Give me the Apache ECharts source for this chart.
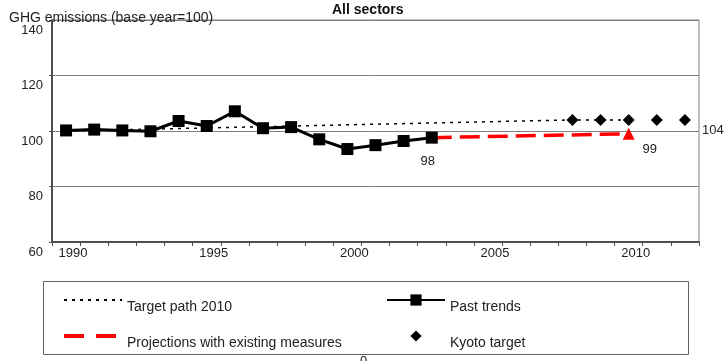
<!DOCTYPE html>
<html><head><meta charset="utf-8">
<script src="https://cdn.jsdelivr.net/npm/echarts@6/dist/echarts.min.js"></script>
<style>html,body{margin:0;padding:0;background:#fff}#c{width:724px;height:361px}</style>
</head><body><div id="c"></div>
<script>
// ---- data ----
const years = ['1990','1991','1992','1993','1994','1995','1996','1997','1998','1999','2000','2001','2002','2003','2004','2005','2006','2007','2008','2009','2010','2011','2012'];
const yTicks = [60, 80, 100, 120, 140];
const pastTrends = [100.2, 100.5, 100.2, 99.9, 103.6, 101.8, 107.1, 101.0, 101.4, 97.0, 93.5, 94.9, 96.4, 97.6];
const targetPath = [100, null, null, null, null, null, null, null, null, null, null, null, null, null, null, null, null, null, 104, 104, 104, null, null];
const projections = [null, null, null, null, null, null, null, null, null, null, null, null, null, 97.6, null, null, null, null, null, null, 99, null, null];
const kyotoTarget = [null, null, null, null, null, null, null, null, null, null, null, null, null, null, null, null, null, null, 104, 104, 104, 104, 104];
const labelTexts = { past: '98', proj: '99', kyoto: '104' };

const textColor = '#222';
const font = 'Arial, "Liberation Sans", sans-serif';

const pastData = pastTrends.map((v, i) => i === pastTrends.length - 1
  ? { value: v, label: { show: true, formatter: labelTexts.past, position: 'inside', offset: [-4, 24], color: textColor, fontSize: 13, fontFamily: font } }
  : v);
const projData = projections.map((v, i) => (v !== null && i === 20)
  ? { value: v, symbol: 'triangle', symbolSize: 12, label: { show: true, formatter: labelTexts.proj, position: 'inside', offset: [21, 16], color: textColor, fontSize: 13, fontFamily: font } }
  : v);
const kyotoData = kyotoTarget.map((v, i) => (v !== null && i === kyotoTarget.length - 1)
  ? { value: v, label: { show: true, formatter: labelTexts.kyoto, position: 'inside', offset: [28, 11], color: textColor, fontSize: 13, fontFamily: font } }
  : v);

const legendText = { fontSize: 14, color: textColor, fontFamily: font, lineHeight: 14 };

const chart = echarts.init(document.getElementById('c'), null, { renderer: 'canvas' });
chart.setOption({
  animation: false,
  backgroundColor: '#fff',
  textStyle: { fontFamily: font },
  title: [
    { text: 'All sectors', left: 332, top: 3, padding: 0, textStyle: { fontSize: 14, fontWeight: 'bold', color: '#111', fontFamily: font } },
    { text: 'GHG emissions (base year=100)', left: 9, top: 11, padding: 0, textStyle: { fontSize: 14, fontWeight: 'normal', color: textColor, fontFamily: font } }
  ],
  grid: { left: 52, right: 25, top: 18, bottom: 119, show: true, borderColor: '#808080', borderWidth: 1, backgroundColor: 'transparent' },
  legend: [
    {
      left: 62, top: 286, padding: 0, orient: 'vertical', itemWidth: 58, itemHeight: 14, itemGap: 8,
      data: [
        { name: 'Target path 2010', itemStyle: { opacity: 0 } },
        { name: 'Projections with existing measures', itemStyle: { opacity: 0 }, lineStyle: { type: [20, 12], width: 4 } }
      ],
      formatter: n => '\n' + n,
      textStyle: legendText
    },
    {
      left: 386, top: 286, padding: 0, orient: 'vertical', itemWidth: 58, itemHeight: 14, itemGap: 8,
      data: ['Past trends', 'Kyoto target'],
      formatter: n => '\n' + n,
      textStyle: legendText
    }
  ],
  graphic: [
    { type: 'rect', shape: { x: 43.5, y: 281.5, width: 645, height: 73 }, style: { fill: 'none', stroke: '#606060', lineWidth: 1 }, z: 0 },
    { type: 'text', left: 360, top: 355, style: { text: '0', fontSize: 13, fill: textColor, fontFamily: font } }
  ],
  xAxis: {
    type: 'category', data: years, boundaryGap: true,
    axisLine: { lineStyle: { color: '#505050', width: 2 } },
    axisTick: { show: true, interval: 0, length: 4, lineStyle: { color: '#505050' } },
    axisLabel: { interval: 4, margin: 5, fontSize: 13, color: textColor, fontFamily: font, padding: [0, 0, 0, 14] },
    splitLine: { show: false }
  },
  yAxis: {
    type: 'value', min: yTicks[0], max: yTicks[yTicks.length - 1], interval: 20,
    axisLine: { show: true, lineStyle: { color: '#505050', width: 2 } },
    axisTick: { show: true, length: 3, lineStyle: { color: '#505050' } },
    axisLabel: { margin: 9, fontSize: 13, lineHeight: 20, color: textColor, fontFamily: font, formatter: v => '\n' + v },
    splitLine: { show: true, lineStyle: { color: '#808080', width: 1 } }
  },
  series: [
    {
      name: 'Target path 2010', type: 'line', data: targetPath, connectNulls: true,
      symbol: 'none', lineStyle: { color: '#000', width: 1.5, type: [3, 5] }, itemStyle: { color: '#000' }, z: 2
    },
    {
      name: 'Projections with existing measures', type: 'line', data: projData, connectNulls: true,
      symbol: 'none', lineStyle: { color: '#ff0000', width: 3.5, type: [20, 8] }, itemStyle: { color: '#ff0000' }, z: 3
    },
    {
      name: 'Past trends', type: 'line', data: pastData,
      symbol: 'rect', symbolSize: 12, lineStyle: { color: '#000', width: 3 }, itemStyle: { color: '#000' }, z: 4
    },
    {
      name: 'Kyoto target', type: 'line', data: kyotoData,
      symbol: 'diamond', symbolSize: 12, lineStyle: { width: 0, opacity: 0 }, itemStyle: { color: '#000' }, z: 4
    }
  ]
});
</script>
</body></html>
